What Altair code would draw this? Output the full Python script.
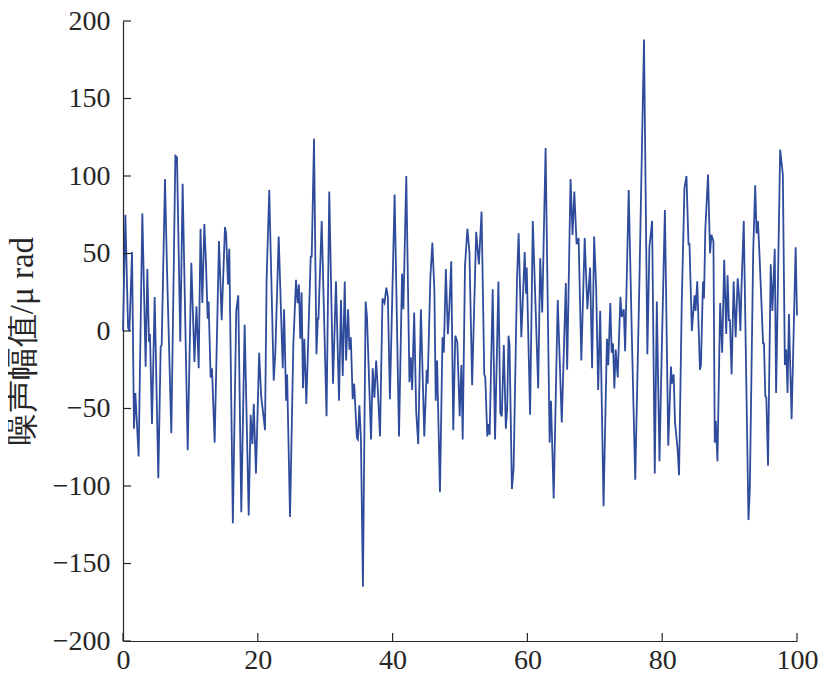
import altair as alt
import pandas as pd

# time (x) and noise amplitude (y, μrad), per 10-unit block
t0 = [0, 0.35, 0.75, 0.95, 1.34, 1.63, 1.83, 2.32, 2.87, 3.36, 3.61, 3.86, 4.0, 4.3, 4.7, 5.24, 5.59, 5.74, 6.23, 6.53, 7.17, 7.77, 8.01, 8.5, 8.85, 9.6]
a0 = [0, 75, 2, 0, 51, -63, -40, -81, 76, -23, 40, -7, -2, -60, 22, -95, -10, -9, 98, 40, -66, 113, 112, -7, 95, -77]
t1 = [10.14, 10.6, 10.9, 11.23, 11.5, 11.77, 12.07, 12.3, 12.56, 12.7, 13.0, 13.2, 13.6, 14.24, 14.64, 15.13, 15.3, 15.58, 15.77, 16.3, 16.8, 17.1, 17.55, 18.05, 18.65, 18.94, 19.2, 19.4, 19.73]
a1 = [44, -20, 16, -24, 66, 18, 69, 45, 8, 19, -30, -24, -72, 58, 7, 67, 63, 30, 53, -124, 13, 23, -117, 4, -119, -54, -73, -47, -92]
t2 = [20.2, 20.5, 20.9, 21.07, 21.3, 21.7, 22.36, 22.6, 23.1, 23.7, 23.9, 24.2, 24.35, 24.78, 25.27, 25.67, 25.9, 26.1, 26.3, 26.5, 26.7, 26.9, 27.2, 27.85, 28.0, 28.34, 28.7, 28.9, 29.0, 29.48]
a2 = [-14, -42, -57, -64, 32, 91, -32, -14, 61, -24, 14, -45, -28, -120, -9, 33, 18, 30, -5, 25, -37, -5, -47, 48, 48, 124, -15, 8, 8, 71]
t3 = [30.2, 30.6, 31.16, 31.6, 32.05, 32.34, 32.6, 32.9, 33.1, 33.4, 33.6, 33.8, 34.08, 34.3, 34.7, 34.85, 35.07, 35.3, 35.6, 36.0, 36.2, 36.8, 37.05, 37.3, 37.56, 37.8, 38.13, 38.5, 38.8, 39.07, 39.3, 39.6]
a3 = [-55, 90, -34, 32, -45, 20, -29, 32, -19, 14, -12, -4, -44, -34, -69, -70, -48, -70, -165, 19, 9, -70, -24, -43, -19, -37, -68, 21, 18, 28, 22, -44]
t4 = [40.3, 40.95, 41.4, 41.6, 42.03, 42.5, 42.7, 42.9, 43.2, 43.5, 43.8, 44.2, 44.7, 45.06, 45.2, 45.6, 45.9, 46.2, 46.4, 46.6, 47.03, 47.4, 47.6, 47.9, 48.2, 48.4, 48.7, 49.0, 49.3, 49.6, 49.95]
a4 = [88, -68, 37, 14, 100, -33, -17, -38, 12, -52, -73, 14, -68, -25, -34, 34, 57, 26, -45, -19, -104, -4, -14, 40, -2, 13, 45, -64, -3, -7, -55]
t5 = [50.2, 50.4, 50.74, 51.1, 51.4, 51.8, 52.4, 52.8, 53.2, 53.6, 53.75, 54.05, 54.2, 54.4, 54.85, 55.2, 55.7, 55.98, 56.2, 56.5, 56.8, 57.0, 57.2, 57.35, 57.7, 57.95, 58.46, 58.7, 59.1, 59.6, 59.8, 59.9]
a5 = [-22, -70, 42, 66, 51, -35, 64, 43, 77, -28, -30, -68, -60, -67, 27, -70, 32, -53, -55, -9, -63, -50, -3, -9, -102, -89, 34, 63, -4, 51, 24, 41]
t6 = [60.4, 60.8, 61.6, 61.9, 62.2, 62.7, 63.3, 63.5, 63.9, 64.5, 65.1, 65.7, 65.9, 66.4, 66.7, 66.96, 67.3, 67.6, 68.0, 68.5, 68.9, 69.3, 69.6, 69.9]
a6 = [-54, 71, -37, 47, 12, 118, -72, -45, -108, 20, -59, 31, -25, 98, 62, 90, 56, 60, -19, 60, 14, 41, -24, 61]
t7 = [70.2, 70.5, 70.8, 71.3, 71.8, 72.0, 72.3, 72.5, 72.7, 72.9, 73.1, 73.4, 73.8, 74.0, 74.3, 74.5, 75.03, 75.5, 76.0, 76.6, 77.3, 77.8, 78.1, 78.5, 78.9, 79.2, 79.6, 79.9]
a7 = [28, -38, 13, -113, -5, -22, 18, -14, -8, -37, -12, -30, 22, 9, 14, -13, 91, -4, -96, 28, 188, -15, 54, 71, -92, 19, -84, -20]
t8 = [80.4, 80.9, 81.3, 81.45, 81.7, 81.9, 82.3, 82.5, 82.9, 83.3, 83.6, 83.9, 84.05, 84.4, 84.8, 84.95, 85.2, 85.6, 85.75, 86.05, 86.2, 86.4, 86.8, 87.1, 87.3, 87.6, 87.8, 87.95, 88.2, 88.6, 88.9, 89.2, 89.5, 89.7, 89.9, 90.05]
a8 = [78, -74, -23, -34, -28, -59, -77, -93, 18, 92, 100, 56, 56, 0, 23, 13, 32, -25, -22, 32, 21, 66, 101, 50, 62, 58, -72, -58, -84, 18, -14, 46, -2, 36, 7, 7]
t9 = [90.3, 90.6, 90.9, 91.2, 91.4, 91.6, 91.75, 92.1, 92.8, 93.0, 93.5, 93.8, 94.0, 94.2, 94.4, 94.7, 94.96, 95.1, 95.3, 95.45, 95.7, 96.1, 96.35, 96.7, 96.9, 97.5, 97.9, 98.2, 98.4, 98.6, 98.8, 99.2, 99.8, 100]
a9 = [-28, 32, -4, 34, 23, 0, 26, 71, -122, -102, 51, 94, 63, 71, 53, 21, -8, -8, -42, -43, -87, 43, 13, 53, -40, 117, 101, -22, -12, -40, 11, -57, 54, 10]

y_ticks = [-200, -150, -100, -50, 0, 50, 100, 150, 200]
x_ticks = [0, 20, 40, 60, 80, 100]
y_title = "噪声幅值/μ rad"

ts = t0 + t1 + t2 + t3 + t4 + t5 + t6 + t7 + t8 + t9
amps = a0 + a1 + a2 + a3 + a4 + a5 + a6 + a7 + a8 + a9
df = pd.DataFrame({"t": ts, "a": amps})

LINE = "#2F4C9C"
AXC = "#262626"
SERIF = "Liberation Serif"

W, H = 674, 620
xs = alt.Scale(domain=[0, 100], nice=False, zero=False)
ys = alt.Scale(domain=[-200, 200], nice=False, zero=False)

xaxis = alt.Axis(values=x_ticks, title=None, ticks=False, grid=False, labelFlush=False,
                 labelPadding=5, domainColor=AXC, domainWidth=1.2)
yaxis = alt.Axis(values=y_ticks, title=y_title, ticks=False, grid=False, labelFlush=False,
                 labelPadding=13, domainColor=AXC, domainWidth=1.2,
                 titleX=-84, titleY=320)

line = alt.Chart(df).mark_line(color=LINE, strokeWidth=1.8, interpolate="linear").encode(
    x=alt.X("t:Q", scale=xs, axis=xaxis, title=None),
    y=alt.Y("a:Q", scale=ys, axis=yaxis, title=y_title),
)

ytick_df = pd.DataFrame({"a": y_ticks})
xtick_df = pd.DataFrame({"t": x_ticks})

yt = alt.Chart(ytick_df).mark_rule(color=AXC, strokeWidth=1.2).encode(
    y=alt.Y("a:Q", scale=ys, axis=yaxis, title=y_title),
    x=alt.value(0), x2=alt.value(8),
)
xt = alt.Chart(xtick_df).mark_rule(color=AXC, strokeWidth=1.2).encode(
    x=alt.X("t:Q", scale=xs, axis=xaxis, title=None),
    y=alt.value(H), y2=alt.value(H - 8),
)

chart = alt.layer(line, yt, xt).properties(
    width=W, height=H,
    autosize=alt.AutoSizeParams(type="none"),
    padding={"left": 115, "top": 13, "right": 24, "bottom": 33},
    background="white",
).configure(font=SERIF).configure_view(stroke=None).configure_axis(
    labelFont=SERIF, labelFontSize=28, labelColor=AXC,
    titleFont=SERIF, titleFontSize=33, titleFontWeight="normal", titleColor=AXC,
)

chart.save("out.html", embed_options={"renderer": "svg", "actions": False})
